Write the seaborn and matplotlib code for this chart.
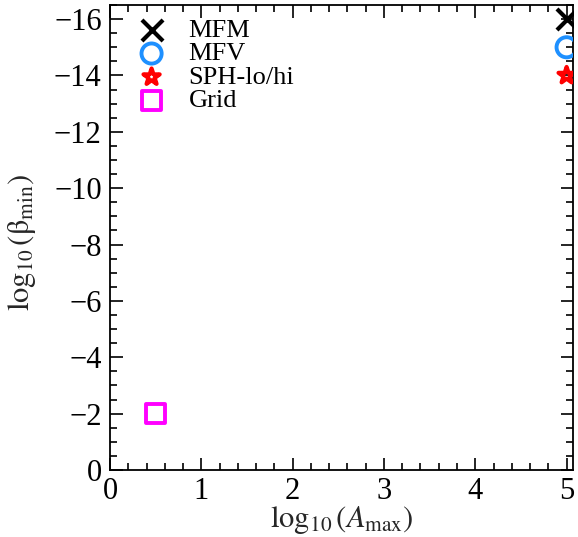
import matplotlib
matplotlib.use("Agg")
import matplotlib.pyplot as plt
import seaborn as sns
import pandas as pd
from matplotlib.ticker import MultipleLocator

sns.set_theme(style="ticks")
plt.rcParams['font.family'] = ['Liberation Serif', 'DejaVu Serif']
plt.rcParams['mathtext.fontset'] = 'stix'

labels = ["MFM", "MFV", "SPH-lo/hi", "Grid"]
log_amax = [5.0, 5.0, 5.0, 0.5]
log_beta = [-16.0, -15.0, -14.0, -2.0]
colors = ["black", "#1E90FF", "red", "magenta"]
markers = ["x", "o", "*", "s"]

df = pd.DataFrame({"x": log_amax, "y": log_beta, "label": labels})

fig = plt.figure(figsize=(5.78, 5.37), dpi=100)
ax = fig.add_axes([110/578, 1-470/537, 463/578, 465/537])

sizes = [230, 210, 150, 200]
lws = [3.0, 2.8, 3.0, 2.8]
for i, lab in enumerate(labels):
    sub = df[df["label"] == lab]
    if markers[i] == "x":
        sns.scatterplot(data=sub, x="x", y="y", ax=ax, marker="x", color=colors[i],
                        s=sizes[i], linewidth=lws[i], label=lab, zorder=3)
    else:
        sns.scatterplot(data=sub, x="x", y="y", ax=ax, marker=markers[i],
                        facecolor="none", edgecolor=colors[i], s=sizes[i],
                        linewidth=lws[i], label=lab, zorder=3)

ax.set_xlim(0, 5.07)
ax.set_ylim(0, -16.5)
ax.set_xticks([0, 1, 2, 3, 4, 5])
ax.set_yticks([0, -2, -4, -6, -8, -10, -12, -14, -16])
ax.set_yticklabels(["0", "−2", "−4", "−6", "−8", "−10", "−12", "−14", "−16"])
ax.xaxis.set_minor_locator(MultipleLocator(0.2))
ax.yaxis.set_minor_locator(MultipleLocator(0.5))
ax.tick_params(which="both", direction="in", top=True, right=True, width=1.2,
               labelsize=22, colors="black")
ax.tick_params(which="major", length=9)
ax.tick_params(which="minor", length=5)
ax.tick_params(axis="x", pad=5)
ax.tick_params(axis="y", pad=6)
for sp in ax.spines.values():
    sp.set_linewidth(1.3)
    sp.set_color("black")

ax.set_xlabel(r"$\log_{10}(A_{\rm max})$", fontsize=22)
ax.set_ylabel(r"$\log_{10}(\mathrm{β}_{\rm min})$", fontsize=22)
ax.yaxis.set_label_coords(-0.155, 0.49)
ax.xaxis.set_label_coords(0.5, -0.073)

leg = ax.legend(loc="upper left", bbox_to_anchor=(0.01, 1.005), frameon=False,
                fontsize=19, handletextpad=0.6, labelspacing=0.0,
                borderaxespad=0.2, handlelength=1.6)
for t in leg.get_texts():
    t.set_color("black")

fig.savefig("out.png", dpi=100)
